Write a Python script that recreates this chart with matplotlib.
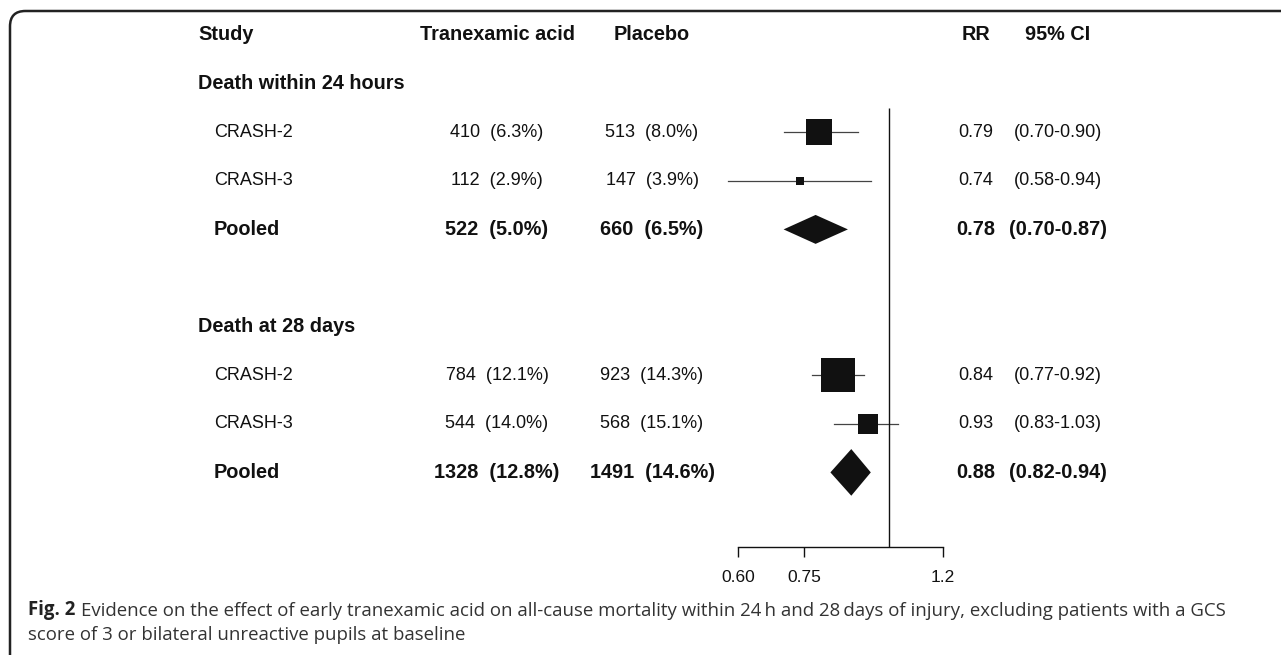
import numpy as np
import matplotlib
matplotlib.use("Agg")
from matplotlib import pyplot as plt
from matplotlib.patches import FancyBboxPatch
from matplotlib.transforms import blended_transform_factory

# ---- data ----
groups = ["Death within 24 hours", "Death at 28 days"]
studies = ["CRASH-2", "CRASH-3", "Pooled"]
txa_n = [[410, 112, 522], [784, 544, 1328]]
txa_pct = [[6.3, 2.9, 5.0], [12.1, 14.0, 12.8]]
pla_n = [[513, 147, 660], [923, 568, 1491]]
pla_pct = [[8.0, 3.9, 6.5], [14.3, 15.1, 14.6]]
rr = [[0.79, 0.74, 0.78], [0.84, 0.93, 0.88]]
ci_lo = [[0.70, 0.58, 0.70], [0.77, 0.83, 0.82]]
ci_hi = [[0.90, 0.94, 0.87], [0.92, 1.03, 0.94]]
# relative weight of each study box
box_weight = [[0.74, 0.24], [1.0, 0.59]]
# relative height of pooled diamonds
diamond_weight = [0.62, 1.0]
xticks = [0.60, 0.75, 1.2]
xtick_labels = ["0.60", "0.75", "1.2"]

W, H = 1281, 655
ROW0, ROWH = 35, 48.6          # pixel y of row 0 and row pitch
PX_PER_LN = 295.8              # pixels per unit of ln(RR)
X06 = 738                      # pixel x of RR = 0.60

plt.rcParams['font.family'] = ['Liberation Sans', 'DejaVu Sans']

fig = plt.figure(figsize=(W / 100, H / 100), dpi=100)
ax = fig.add_axes([0, 0, 1, 1])
ax.set_xscale("log")
ax.set_xlim(0.6 * np.exp(-X06 / PX_PER_LN), 0.6 * np.exp((W - X06) / PX_PER_LN))
ax.set_ylim((H - ROW0) / ROWH, -ROW0 / ROWH)
ax.patch.set_alpha(0)


def px(x):
    return x / W


tx = blended_transform_factory(fig.transFigure, ax.transData)

REG = 13
BOLD = 14.3
INK = "#111111"
COL_STUDY, COL_SUB = px(198), px(214)
COL_TXA, COL_PLA = px(497), px(652)
COL_RR, COL_CI = px(976), px(1058)

# header
for s, x, ha in [("Study", COL_STUDY, "left"), ("Tranexamic acid", COL_TXA, "center"),
                 ("Placebo", COL_PLA, "center"), ("RR", COL_RR, "center"),
                 ("95% CI", COL_CI, "center")]:
    ax.text(x, 0, s, transform=tx, ha=ha, va="center", fontsize=BOLD, fontweight="bold",
            color=INK)

row = 1
for g in range(2):
    ax.text(COL_STUDY, row, groups[g], transform=tx, ha="left", va="center",
            fontsize=BOLD, fontweight="bold", color=INK)
    row += 1
    for i, name in enumerate(studies):
        pooled = i == 2
        fw = "bold" if pooled else "normal"
        fs = BOLD if pooled else REG
        cells = [(COL_SUB, name, "left"),
                 (COL_TXA, f"{txa_n[g][i]}  ({txa_pct[g][i]:.1f}%)", "center"),
                 (COL_PLA, f"{pla_n[g][i]}  ({pla_pct[g][i]:.1f}%)", "center"),
                 (COL_RR, f"{rr[g][i]:.2f}", "center"),
                 (COL_CI, f"({ci_lo[g][i]:.2f}-{ci_hi[g][i]:.2f})", "center")]
        for x, s, ha in cells:
            ax.text(x, row, s, transform=tx, ha=ha, va="center", fontsize=fs,
                    fontweight=fw, color=INK)
        if pooled:
            h = 0.48 * diamond_weight[g]
            ax.fill([ci_lo[g][i], rr[g][i], ci_hi[g][i], rr[g][i]],
                    [row, row - h, row, row + h], color=INK, lw=0, zorder=3)
        else:
            ax.plot([ci_lo[g][i], ci_hi[g][i]], [row, row], color="#444444", lw=0.9, zorder=2)
            ax.plot(rr[g][i], row, marker="s", ms=24.5 * box_weight[g][i],
                    color=INK, mew=0, zorder=3)
        row += 1
    row += 1

axis_row = (547 - ROW0) / ROWH
ax.vlines(1.0, 1.5, axis_row, color=INK, lw=1.0)

# x axis drawn as a bounded bottom spine
for side in ["top", "right", "left"]:
    ax.spines[side].set_visible(False)
ax.spines["bottom"].set_position(("data", axis_row))
ax.spines["bottom"].set_bounds(xticks[0], xticks[-1])
ax.spines["bottom"].set_linewidth(1.0)
ax.spines["bottom"].set_color(INK)
ax.set_xticks(xticks)
ax.set_xticklabels(xtick_labels)
ax.xaxis.set_minor_locator(matplotlib.ticker.NullLocator())
ax.tick_params(axis="x", direction="out", length=7.2, width=1.0, color=INK,
               labelsize=12.5, pad=9, labelcolor=INK)
ax.set_yticks([])

# rounded frame around the figure
frame = FancyBboxPatch((10 / W, -0.2), 1.2, 1 - 11 / H + 0.2,
                       boxstyle="round,pad=0,rounding_size=0.012",
                       transform=fig.transFigure, fill=False, lw=1.8, ec="#222222",
                       mutation_aspect=W / H)
fig.patches.append(frame)

# caption
CAP = 13.45
CAP_FONT = ["Open Sans", "DejaVu Sans"]
t1 = fig.text(28 / W, 1 - 615 / H, "Fig. 2", fontsize=CAP, fontweight="bold",
              family=CAP_FONT, color="#222222", va="baseline")
ax.annotate("Evidence on the effect of early tranexamic acid on all-cause mortality within 24\u2009h "
            "and 28\u2009days of injury, excluding patients with a GCS",
            xy=(1, 0), xycoords=t1, xytext=(4, 0), textcoords="offset points",
            fontsize=CAP, family=CAP_FONT, color="#333333", va="bottom", ha="left")
fig.text(28 / W, 1 - 640 / H, "score of 3 or bilateral unreactive pupils at baseline",
         fontsize=CAP, family=CAP_FONT, color="#333333", va="baseline")

fig.savefig("out.png", dpi=100)
